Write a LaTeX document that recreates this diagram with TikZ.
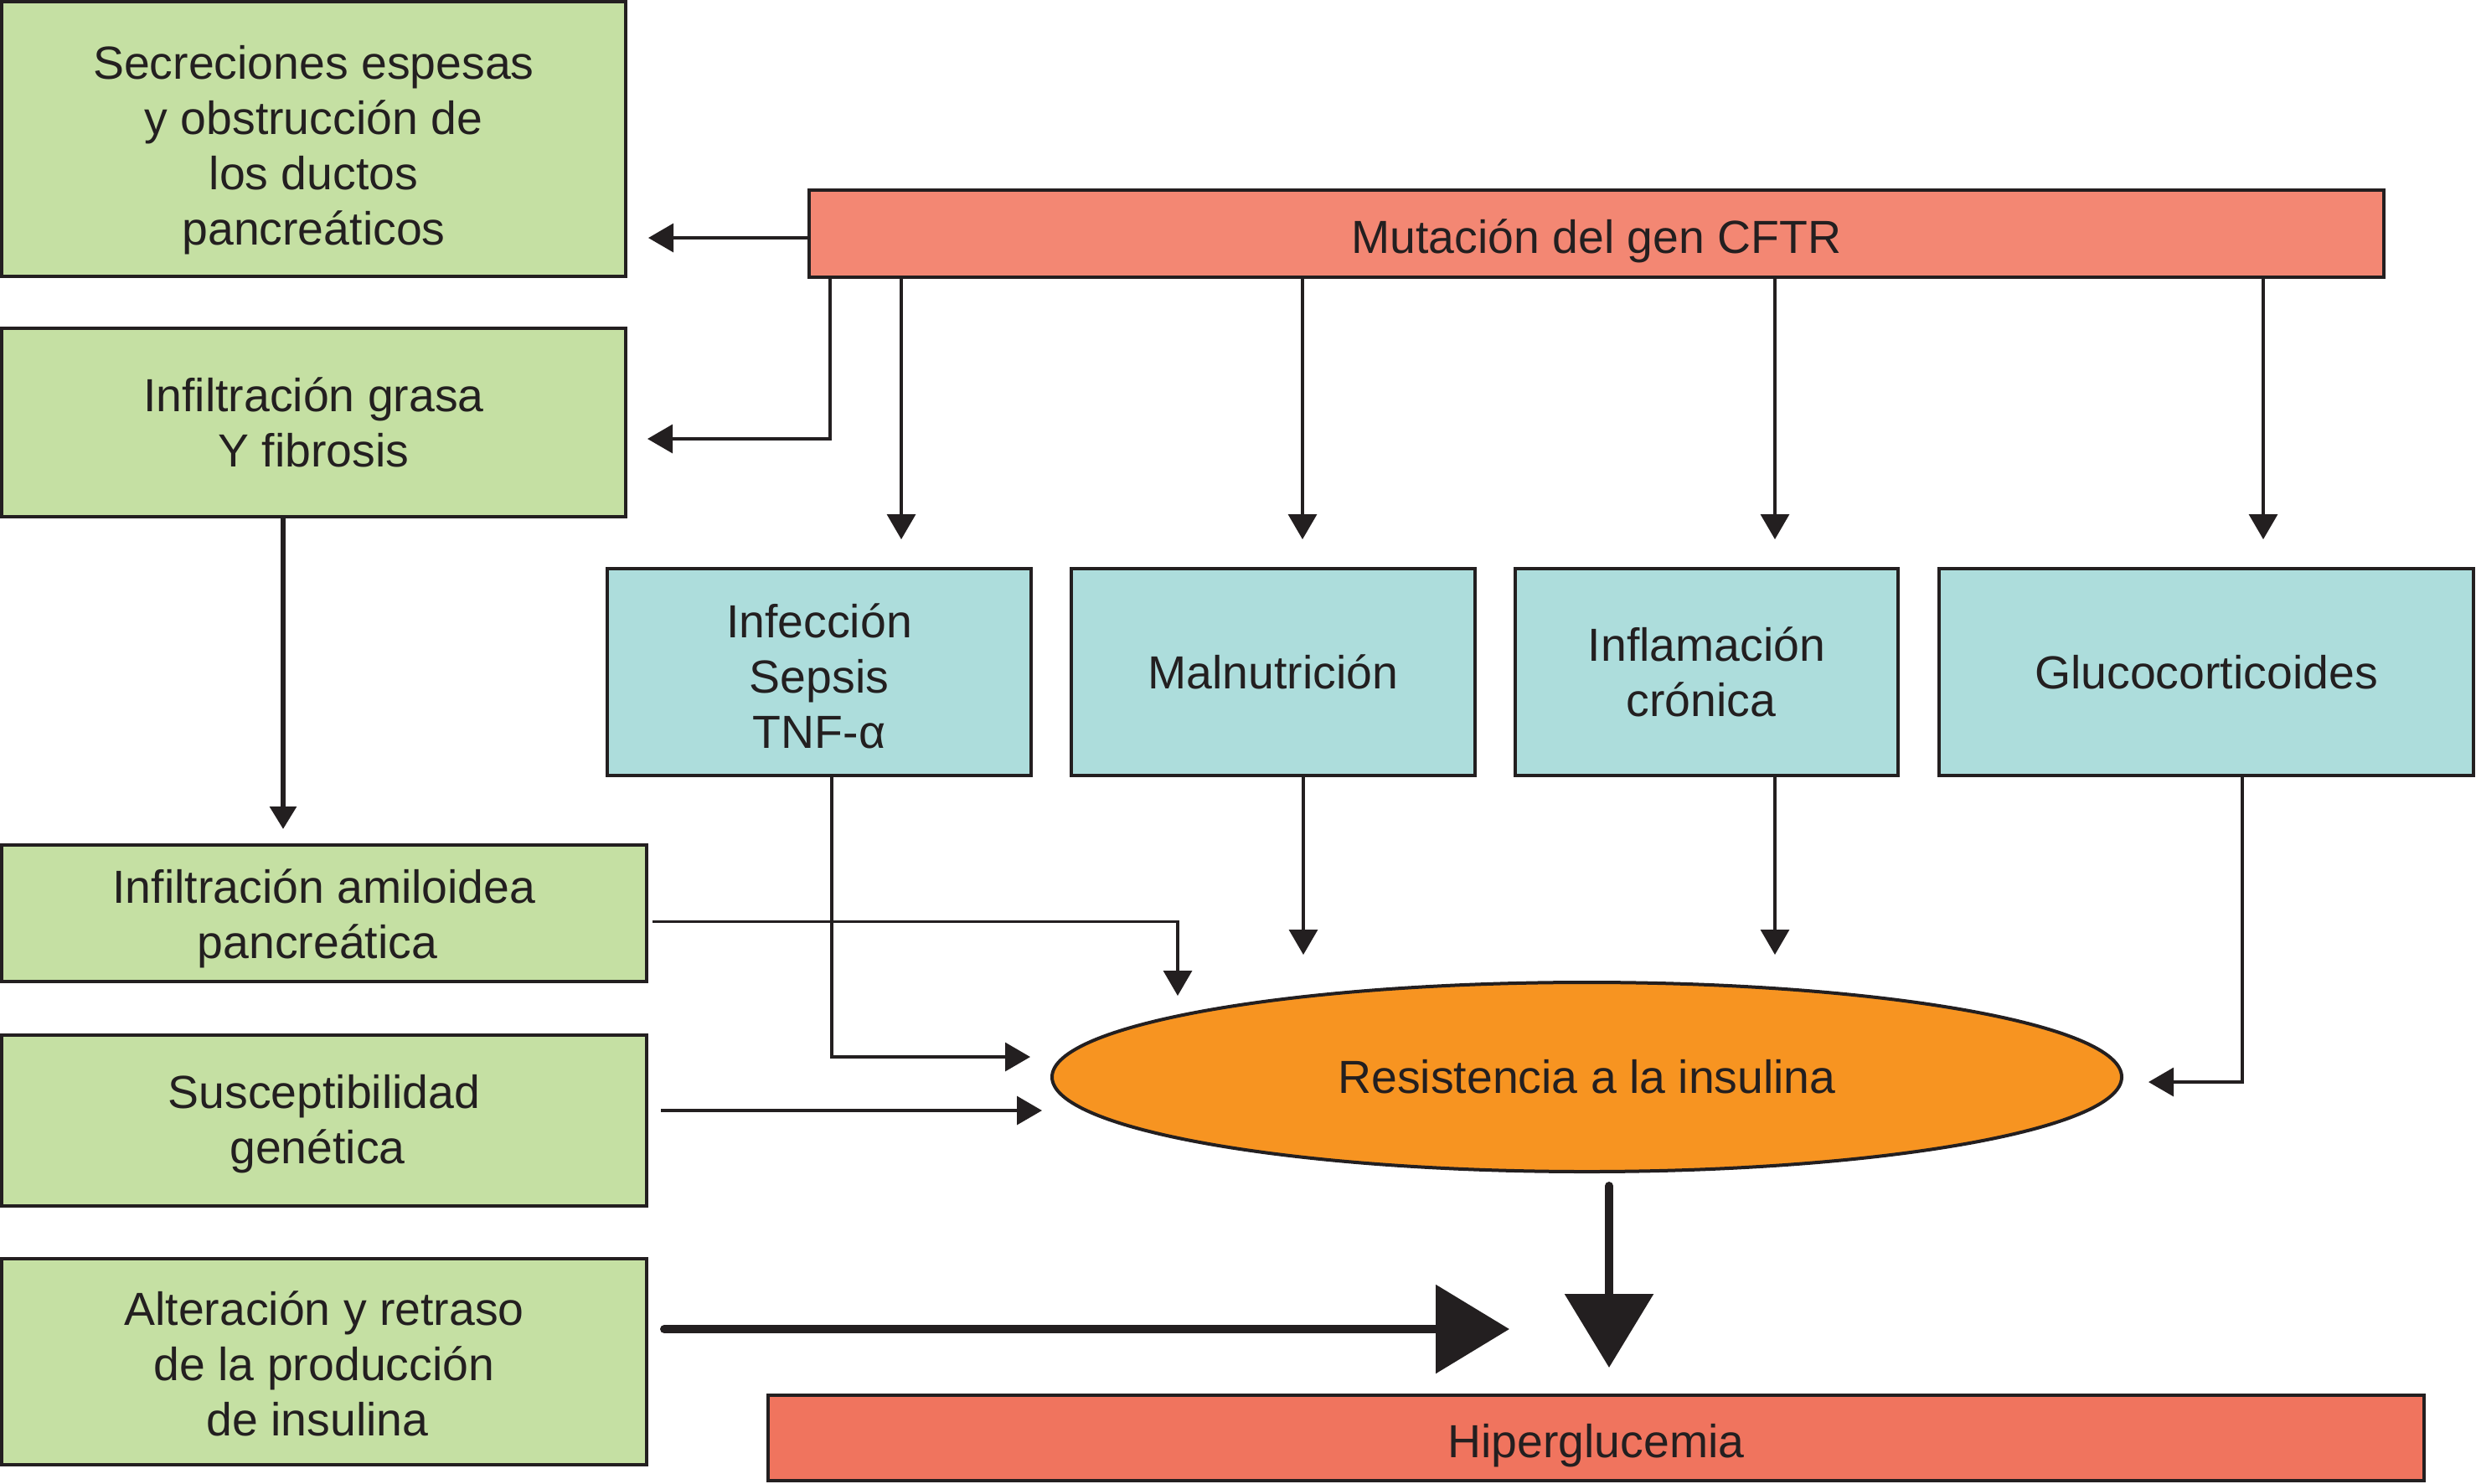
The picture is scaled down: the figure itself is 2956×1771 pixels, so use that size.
\documentclass[tikz,border=0pt]{standalone}
\usepackage{fontspec}
\setmainfont{Liberation Sans}
\usetikzlibrary{arrows.meta,calc,shapes.geometric}
\definecolor{ink}{HTML}{231F20}
\definecolor{gfill}{HTML}{C5E0A3}
\definecolor{cfill}{HTML}{ADDDDC}
\definecolor{sfill}{HTML}{F38773}
\definecolor{hfill}{HTML}{F0745E}
\definecolor{ofill}{HTML}{F79421}
% lowered block of centred lines, keeping its natural size
\newcommand{\lowblock}[2]{\raisebox{-#1}[\height][\depth]{\begin{tabular}{@{}c@{}}#2\end{tabular}}}
\newcommand{\lowline}[2]{\raisebox{-#1}[\height][\depth]{#2}}
\newcommand{\tr}[1]{\makebox[#1]{}}
\begin{document}
\begin{tikzpicture}[x=0.25pt,y=-0.25pt,
  box/.style={draw=ink, line width=1pt, inner sep=0pt, align=center, text=ink,
    font=\fontsize{13.85}{16.5}\selectfont},
  gbox/.style={box, fill=gfill},
  cbox/.style={box, fill=cfill, minimum height=61.75pt},
  arr/.style={draw=ink, line width=0.83pt, -{Triangle[length=7.5pt,width=8.5pt]}},
  midarr/.style={draw=ink, line width=1.5pt, -{Triangle[length=6.75pt,width=7.75pt]}},
  bigarr/.style={draw=ink, line width=2.5pt, line cap=round, -{Triangle[length=22pt,width=26pt]}}]
\useasboundingbox (0,0) rectangle (2956,1771);

% left green boxes
\node[gbox, minimum width=186.25pt, minimum height=82pt] (g1) at (374.5,166)
  {\lowblock{3.45pt}{Secreciones espesas\\y obstrucción de\\los ductos\\pancreáticos}};
\node[gbox, minimum width=186.25pt, minimum height=56.25pt] (g2) at (374.5,504.5)
  {Infiltración grasa\\Y fibrosis};
\node[gbox, minimum width=192.5pt, minimum height=40.75pt] (g3) at (387,1090.5)
  {\lowblock{1.9pt}{Infiltración amiloidea\\pancreática\tr{4pt}}};
\node[gbox, minimum width=192.5pt, minimum height=51pt] (g4) at (387,1338)
  {\lowblock{1.4pt}{Susceptibilidad\\genética\tr{4pt}}};
\node[gbox, minimum width=192.5pt, minimum height=61.5pt] (g5) at (387,1625.5)
  {\lowblock{2.35pt}{Alteración y retraso\\de la producción\\de insulina\tr{4pt}}};

% top box
\node[box, fill=sfill, minimum width=470pt, minimum height=26pt] (cftr) at (1906,279)
  {\lowline{2.3pt}{Mutación del gen CFTR}};

% cyan boxes
\node[cbox, minimum width=126.5pt] (c1) at (978,802.5) {\lowblock{2.95pt}{Infección\\Sepsis\\TNF-α}};
\node[cbox, minimum width=120.5pt] (c2) at (1520,802.5) {Malnutrición};
\node[cbox, minimum width=114.25pt] (c3) at (2037.5,802.5) {Inflamación\\crónica\tr{3.3pt}};
\node[cbox, minimum width=159.5pt] (c4) at (2634,802.5) {Glucocorticoides};

% ellipse
\node[box, ellipse, fill=ofill, minimum width=319.25pt, minimum height=56.5pt] (ell) at (1894.5,1286)
  {Resistencia a la insulina};

% bottom box
\node[box, fill=hfill, minimum width=494.25pt, minimum height=25.5pt] (hip) at (1905.5,1717)
  {\lowline{2.4pt}{Hiperglucemia}};

% connectors from CFTR
\coordinate (t1) at ($(g1.east |- cftr.west)+(25,5)$);
\draw[arr] ($(cftr.west)+(0,5)$) -- (t1);
\coordinate (t2) at ($(g2.east)+(24,19.5)$);
\draw[arr] ($(cftr.south west)+(27,0)$) |- (t2);
\coordinate (t3) at ($(c1.north)+(98,-33)$);
\draw[arr] (cftr.south -| t3) -- (t3);
\coordinate (t4) at ($(c2.north)+(35,-33)$);
\draw[arr] (cftr.south -| t4) -- (t4);
\coordinate (t5) at ($(c3.north)+(81.5,-33)$);
\draw[arr] (cftr.south -| t5) -- (t5);
\coordinate (t6) at ($(c4.north)+(68,-33)$);
\draw[arr] (cftr.south -| t6) -- (t6);

% connectors into the ellipse
\coordinate (t7) at ($(ell.west)+(-24,-24)$);
\draw[arr] ($(c1.south)+(15,0)$) |- (t7);
\coordinate (t8) at ($(c2.south)+(36,212)$);
\draw[arr] (c2.south -| t8) -- (t8);
\coordinate (t9) at ($(c3.south)+(81.5,212)$);
\draw[arr] (c3.south -| t9) -- (t9);
\coordinate (t10) at ($(ell.east)+(30,6)$);
\draw[arr] ($(c4.south)+(43,0)$) |- (t10);
\coordinate (t11) at ($(ell.center)+(-488.5,-97)$);
\draw[arr] ($(g3.east)+(5,10)$) -| (t11);
\coordinate (t12) at ($(ell.west)+(-10,40)$);
\draw[arr] ($(g4.east)+(15,-12)$) -- (t12);

% grasa -> amiloidea
\coordinate (t13) at ($(g3.north)+(-49,-17)$);
\draw[midarr] (g2.south -| t13) -- (t13);

% thick arrows
\coordinate (t14) at ($(hip.north)+(-103.5,-77)$);
\coordinate (s14) at ($(g5.east)+(19,0)$);
\draw[bigarr] (s14 |- t14) -- (t14);
\coordinate (t15) at ($(hip.north)+(15.5,-31)$);
\draw[bigarr] ($(ell.south)+(26.5,15)$) -- (t15);
\end{tikzpicture}
\end{document}
